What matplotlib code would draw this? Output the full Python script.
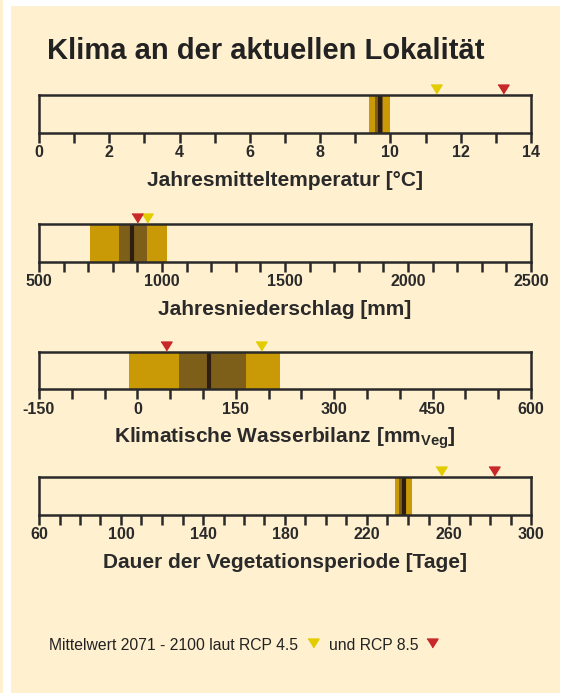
import matplotlib
matplotlib.use("Agg")
import numpy as np
import matplotlib.pyplot as plt
from matplotlib.patches import Rectangle
import matplotlib.transforms as mtransforms

plt.rcParams['font.family'] = ['Liberation Sans', 'DejaVu Sans']
plt.rcParams['mathtext.fontset'] = 'custom'
plt.rcParams['mathtext.rm'] = 'Liberation Sans'
plt.rcParams['mathtext.bf'] = 'Liberation Sans:bold'
plt.rcParams['axes.unicode_minus'] = False

# data
titles = ["Jahresmitteltemperatur [°C]",
          "Jahresniederschlag [mm]",
          r"Klimatische Wasserbilanz [mm$_{\mathbf{Veg}}$]",
          "Dauer der Vegetationsperiode [Tage]"]
x_min = [0, 500, -150, 60]
x_max = [14, 2500, 600, 300]
minor_step = [1, 100, 50, 10]
major_step = [2, 500, 150, 40]
outer_lo = [9.4, 707, -13, 233.7]
outer_hi = [10.0, 1019, 217, 241.8]
inner_lo = [9.56, 825, 63, 235.6]
inner_hi = [9.80, 939, 166, 238.8]
mean_val = [9.70, 878, 109, 237.9]
rcp45 = [11.3, 940, 189, 256]
rcp85 = [13.2, 900, 44, 282]

W, H = 568, 693
cream = "#FFF0CF"
gold = "#C99A06"
brown = "#7E5F1A"
dark = "#2E1E10"
yellow = "#E2CC00"
red = "#C8282A"
edge = "#2A2A2A"

fig = plt.figure(figsize=(W / 100, H / 100), dpi=100, facecolor="white")
fig.patches.append(Rectangle((11 / W, 0), 549 / W, 687 / H, transform=fig.transFigure,
                             facecolor=cream, edgecolor="none", zorder=-10))
fig.patches.append(Rectangle((0, 0), 2.5 / W, 1, transform=fig.transFigure,
                             facecolor=cream, edgecolor="none", zorder=-10))

tri = [(-1, 0.8), (1, 0.8), (0, -0.8)]
box_top = [95, 224.3, 351.7, 477.3]
box_h = 37.5

for i in range(4):
    top = box_top[i]
    ax = fig.add_axes([39 / W, (H - top - box_h) / H, 492 / W, box_h / H])
    ax.set_facecolor(cream)
    ax.set_xlim(x_min[i], x_max[i])
    ax.set_ylim(0, 1)
    ax.set_yticks([])
    ax.axvspan(outer_lo[i], outer_hi[i], color=gold, lw=0, zorder=1)
    ax.axvspan(inner_lo[i], inner_hi[i], color=brown, lw=0, zorder=2)
    ax.axvline(mean_val[i], color=dark, lw=3, zorder=3)
    for s in ax.spines.values():
        s.set_linewidth(1.8)
        s.set_color(edge)
        s.set_zorder(5)
    ax.set_xticks(np.arange(x_min[i], x_max[i] + 0.001, major_step[i]))
    ax.set_xticks(np.arange(x_min[i], x_max[i] + 0.001, minor_step[i]), minor=True)
    ax.tick_params(axis='x', which='both', direction='out', length=7.5, width=1.8,
                   color=edge, pad=1.5)
    ax.tick_params(axis='x', which='major', labelsize=11.5, labelcolor=edge)
    for lab in ax.get_xticklabels():
        lab.set_fontweight('bold')
    trans = mtransforms.blended_transform_factory(ax.transData, ax.transAxes)
    ax.plot([rcp45[i]], [1 + 6 / box_h], marker=tri, ms=8, color=yellow,
            transform=trans, clip_on=False, zorder=6, ls='none')
    ax.plot([rcp85[i]], [1 + 6 / box_h], marker=tri, ms=8, color=red,
            transform=trans, clip_on=False, zorder=6, ls='none')
    fig.text(285 / W, 1 - (top + box_h + 53.5) / H, titles[i], ha='center',
             va='baseline', fontsize=15, fontweight='bold', color=edge)

fig.text(47 / W, 1 - 59 / H, "Klima an der aktuellen Lokalität", fontsize=21,
         fontweight='bold', color="#222222", va='baseline', ha='left')

fig.text(49 / W, 1 - 650 / H, "Mittelwert 2071 - 2100 laut RCP 4.5", fontsize=11.3,
         color="#222222", va='baseline', ha='left')
fig.text(329 / W, 1 - 650 / H, "und RCP 8.5", fontsize=11.3,
         color="#222222", va='baseline', ha='left')
fig.lines.append(plt.Line2D([313 / W], [1 - 643 / H], marker=tri, ms=8, color=yellow,
                            ls='none', transform=fig.transFigure))
fig.lines.append(plt.Line2D([432 / W], [1 - 643 / H], marker=tri, ms=8, color=red,
                            ls='none', transform=fig.transFigure))

fig.savefig("out.png", dpi=100, facecolor="white")
